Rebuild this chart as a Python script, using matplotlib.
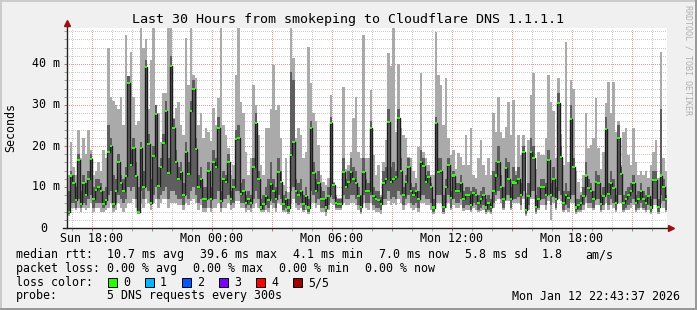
# -*- coding:utf-8 -*-

import numpy as np
import matplotlib
matplotlib.use('Agg')
import matplotlib.pyplot as plt
from matplotlib.patches import Rectangle

# time axis: hours since Sunday 00:00, one column = 7.5 minutes
t_start = 16.75
t_step = 0.125

# smoke per column (ms): lowest ping, inner low, median, inner high, highest ping
med = [
    4.0, 12.8, 11.0, 6.9, 16.7, 5.9, 11.0, 8.0, 12.0, 16.8, 7.1, 9.3, 9.9, 9.1, 5.9, 6.9, 18.6, 19.9, 5.9, 9.1,
    16.0, 11.0, 9.1, 12.7, 35.4, 15.3, 19.6, 12.7, 4.0, 19.6, 10.1, 39.3, 20.4, 6.1, 17.6, 27.7, 10.3, 14.8, 20.7, 28.5,
    13.3, 39.6, 24.3, 16.1, 12.0, 13.7, 8.0, 18.6, 13.2, 28.5, 33.9, 19.3, 10.1, 12.0, 7.1, 7.1, 14.0, 7.1, 16.0, 14.8,
    24.5, 6.5, 12.0, 11.2, 16.1, 7.1, 9.9, 21.6, 22.0, 8.2, 9.0, 6.1, 7.1, 6.1, 14.8, 25.7, 12.0, 5.0, 5.9, 7.8,
    6.9, 10.8, 9.0, 7.0, 13.7, 11.2, 5.9, 7.0, 5.0, 17.8, 20.9, 9.0, 8.0, 9.0, 5.9, 7.8, 5.0, 24.5, 13.3, 9.0,
    11.0, 7.1, 7.0, 5.0, 7.8, 25.5, 10.4, 6.1, 5.9, 5.9, 13.7, 9.9, 11.3, 13.7, 12.0, 11.0, 7.8, 5.2, 13.7, 9.1,
    9.1, 24.5, 7.8, 7.1, 6.9, 5.9, 11.0, 12.0, 25.8, 11.3, 12.0, 12.4, 26.8, 14.0, 8.0, 11.2, 14.8, 9.1, 8.0, 9.1,
    7.1, 16.0, 15.2, 11.2, 12.4, 9.9, 5.0, 25.5, 13.7, 13.9, 5.2, 9.9, 15.4, 7.3, 12.8, 9.0, 9.1, 11.0, 7.1, 8.0,
    8.0, 5.6, 8.5, 8.0, 6.1, 7.0, 8.0, 5.0, 6.1, 5.2, 9.1, 12.8, 16.1, 9.9, 7.1, 14.6, 12.0, 7.1, 11.1, 11.0,
    12.0, 8.0, 18.6, 4.4, 7.8, 18.6, 17.0, 5.2, 7.1, 9.9, 9.9, 8.0, 16.7, 8.0, 12.0, 7.1, 30.4, 17.4, 6.1, 8.0,
    7.3, 26.7, 14.8, 5.0, 5.6, 6.1, 7.8, 12.8, 9.8, 9.1, 7.1, 11.2, 11.0, 5.9, 7.8, 24.1, 8.2, 11.0, 9.8, 6.1,
    21.9, 13.2, 6.1, 7.1, 8.0, 9.0, 11.0, 6.1, 7.1, 9.0, 7.1, 6.1, 7.8, 5.0, 11.7, 11.7, 5.2, 12.8, 9.9, 7.0,
]
hi = [
    13, 21, 15, 13, 24, 17, 22, 18, 24, 19, 13, 14, 16, 14, 19, 17, 44, 32, 31, 30,
    29, 32, 25, 47, 37, 43, 32, 25, 26, 49, 44, 46, 29, 41, 49, 30, 28, 21, 33, 33,
    48.7, 48.7, 26.8, 29.2, 30.8, 25.1, 22.7, 46.3, 34.9, 49.5, 37.3, 36.5, 25.1, 28.0, 21.9, 24.3, 23.5, 21.1, 29.2, 25.1,
    31.6, 49.5, 25.1, 22.7, 19.4, 12.9, 15.4, 37.3, 49.5, 30.8, 28.0, 18.6, 12.9, 17.0, 34.9, 30.0, 22.7, 15.4, 12.9, 24.3,
    24.3, 29, 39.8, 28.8, 30, 22, 10.5, 17, 8.9, 48.7, 41.4, 21.9, 24.3, 22.7, 17, 18.6, 44.2, 35.3, 28, 26,
    20.2, 12.9, 11.3, 10.5, 12.1, 32.4, 11.3, 8.0, 7.2, 7.2, 34.5, 14.5, 15.4, 18.6, 26.8, 32, 18.6, 17, 47.1, 17,
    17, 33.7, 17.8, 12.9, 15.4, 8, 16.2, 21.4, 42.6, 39.4, 48.7, 23.5, 40, 24.3, 22.7, 21.9, 17.4, 17, 13.8, 12.1,
    19.8, 37.7, 18.6, 17, 15.4, 12.9, 12.9, 47.9, 37.3, 34.9, 25.1, 36.5, 21.9, 17.8, 19, 14.5, 18.2, 17.4, 15.4, 22.7,
    15.4, 24.3, 12.9, 12.1, 17, 21.4, 15.4, 12.9, 17, 12.9, 28, 23.5, 32, 23.5, 21.9, 24.7, 30.8, 22.7, 31.2, 13.8,
    22.7, 17.8, 22.7, 8.5, 21.4, 32.4, 37.7, 14.5, 18.6, 17.8, 17.8, 21.9, 37.3, 30.8, 28.5, 17, 36.5, 23, 15.4, 45.4,
    16.2, 36.1, 34, 13.8, 11.3, 8.9, 12.9, 28, 19.4, 20.2, 21.9, 31.6, 19.4, 14.5, 18.6, 30.4, 35.7, 28, 35.7, 23.5,
    26, 15.4, 23.5, 24.3, 17.8, 15.4, 24.3, 16.2, 12.9, 13.8, 12.9, 13.8, 12.1, 15.4, 18.6, 21.4, 12.1, 43, 17, 13.8,
]
q_hi = [
    9, 14, 13, 10, 18, 9, 13, 11, 14, 18, 10, 12, 12, 11, 9, 10, 25, 22, 13, 12,
    18, 13, 12, 15, 37, 19, 22, 16, 10, 21, 14, 41, 23, 12, 20, 30, 15, 17, 23, 31,
    17, 42, 26.5, 19, 15, 16, 11, 21, 16, 31, 36, 22, 13, 15, 10, 10, 16, 10, 19, 17,
    27, 9, 14, 13, 18, 9, 12, 24, 25, 11, 12, 8, 9, 8, 17, 28, 14, 7, 8, 10,
    12, 16, 12, 10, 17, 14, 8, 9, 7, 38, 36, 12, 11, 12, 8, 10, 7, 26, 16, 12,
    14, 10, 9, 7, 10, 27, 11, 7.5, 7, 7, 17, 12, 14, 17, 15, 14, 10, 8, 17, 12,
    11, 26, 10, 9, 9, 7.5, 14, 15, 29, 15, 16, 14, 29, 17, 10, 13, 17, 11, 10, 11,
    9, 19, 17, 13, 14, 11, 7, 27, 17, 17, 8, 12, 17, 9, 14, 11, 11, 13, 9, 10,
    10, 9, 10, 9.5, 8, 9, 10, 7, 8, 7, 14, 16, 20, 13, 10, 17, 16, 10, 15, 13,
    15, 11, 20, 7, 11, 22, 20, 8, 10, 12, 12, 11, 19, 11, 15, 10, 33, 20, 9, 11,
    9, 30, 17, 7, 7, 8, 10, 16, 12, 11, 9, 14, 13, 8, 10, 27, 11, 14, 12, 8,
    25, 15, 8, 9, 10, 11, 13, 8, 9, 11, 9, 8, 10, 7, 14, 14, 7, 29, 12, 8,
]
q_lo = [
    3.5, 6, 6, 5, 7, 5, 6, 5.5, 7, 8, 5, 6, 6, 6, 5, 5.5, 8, 9, 5, 6,
    8, 7, 6, 7, 10, 9, 10, 7, 4, 9, 7, 10, 9, 5.5, 8, 10, 7, 8, 9, 10,
    7, 9, 9, 8, 7, 7, 5.5, 8, 7, 9, 10, 8, 6, 7, 5, 5, 7, 5, 7, 7,
    9, 5, 7, 7, 8, 5.5, 6, 9, 9, 6, 6, 5, 5.5, 5, 7, 9, 7, 4.5, 4.5, 5.5,
    5, 7, 6, 5, 8, 7, 4.5, 5, 4, 9, 10, 6, 5.5, 6, 4.5, 5.5, 4, 9, 8, 6,
    7, 5, 5, 4, 5.5, 8, 7, 5, 5, 5, 8, 7, 7, 8, 8, 7, 5.5, 4, 8, 6,
    6, 8, 5.5, 5, 5, 4.5, 7, 7, 9, 7, 7.5, 7, 9, 8, 5.5, 7, 8, 6, 5.5, 6,
    5, 8, 8, 7, 7, 6, 4, 8, 8, 8, 4, 6, 8, 5, 7, 6, 6, 7, 5, 5.5,
    5.5, 4.5, 6, 5.5, 4.5, 5, 5.5, 4, 4.5, 4, 6, 8, 9, 7, 5, 8, 8, 5, 7, 7,
    7.5, 5.5, 9, 3.5, 5.5, 9, 9, 4, 5, 7, 7, 5.5, 8, 5.5, 7.5, 5, 9, 8, 4.5, 5.5,
    5, 8, 8, 4, 4.5, 4.5, 5.5, 8, 6, 6, 5, 7, 7, 4.5, 5.5, 8, 5.5, 7, 6, 4.5,
    8, 8, 4.5, 5, 5.5, 6, 7, 4.5, 5, 6, 5, 4.5, 5.5, 4, 7, 7, 4, 8, 6.5, 4.5,
]
lo = [
    3, 5, 5, 4.5, 5, 4, 5, 4.5, 5, 6, 4, 5, 5, 4, 4, 4.5, 5, 6, 4, 4.5,
    6, 5, 4, 5, 6, 6, 7, 5, 3.5, 6, 5, 7, 6, 4.5, 6, 7, 5, 6, 7, 7,
    5, 6, 6, 6, 5.5, 5.5, 4.5, 6, 5.5, 6.5, 7, 6, 4.5, 5.5, 4, 4, 5, 4, 5, 5,
    6, 4, 5, 5, 6, 4.5, 5, 6.5, 6.5, 5, 5, 4, 4.5, 4, 5, 6, 5, 4, 3.8, 4.5,
    4, 5.5, 5, 4, 6, 5.5, 4, 4, 3.5, 6, 7, 5, 4.5, 5, 3.8, 4.5, 3.5, 6, 6, 5,
    5.5, 4, 4, 3, 4.5, 6, 5.5, 4.5, 4.5, 4.5, 6, 5.5, 5.5, 6, 6, 5.5, 4.5, 3.5, 6, 5,
    4.5, 6, 4.5, 4, 4, 3.5, 5.5, 5.5, 6.5, 5.5, 6, 5.5, 7, 6, 4.5, 5.5, 6, 5, 4.5, 5,
    4, 6, 6, 5.5, 5.5, 4.5, 3.5, 6, 6, 6, 3.5, 5, 6, 4.5, 5.5, 5, 5, 5.5, 4.2, 4.5,
    4.5, 4, 5, 4.5, 4, 4.2, 4.5, 3.5, 3.8, 3.5, 5, 6.5, 7, 6, 4.5, 6.5, 6.5, 4.5, 6, 6,
    6, 4.5, 7, 3, 4.5, 7, 7, 3.5, 4.5, 5.5, 5.5, 4.5, 6.5, 2, 6, 4.5, 7, 6.5, 4, 4.5,
    4, 6, 6, 3.5, 3.8, 4, 4.5, 6, 5, 5, 4.5, 5.5, 5.5, 4, 4.5, 6, 4.5, 5.5, 5, 4,
    6, 6, 4, 4.5, 4.5, 5, 5.5, 4, 4.5, 5, 4.5, 4, 4.5, 3.5, 5.5, 5.5, 3.5, 6, 5, 4,
]

x_label_hours = [18, 24, 30, 36, 42]
x_labels = ['Sun 18:00', 'Mon 00:00', 'Mon 06:00', 'Mon 12:00', 'Mon 18:00']
y_tick_vals = [0, 10, 20, 30, 40]
y_labels = ['0', '10 m', '20 m', '30 m', '40 m']

loss_labels = ['0', '1', '2', '3', '4', '5/5']
loss_colors = ['#26ff00', '#00b8ff', '#0059ff', '#7e00ff', '#ff0000', '#a10000']

title = 'Last 30 Hours from smokeping to Cloudflare DNS 1.1.1.1'
rtt_parts = ['median rtt:', '10.7 ms avg', '39.6 ms max', '4.1 ms min', '7.0 ms now', '5.8 ms sd', '1.8', 'am/s']
loss_parts = ['packet loss:', '0.00 % avg', '0.00 % max', '0.00 % min', '0.00 % now']
probe_parts = ['probe:', '5 DNS requests every 300s']
stamp = 'Mon Jan 12 22:43:37 2026'

W, H = 697, 310
MONO = 'DejaVu Sans Mono'
FS = 8.4


def fx(px):
    return px / W


def fy(py):
    return 1 - py / H


def main():
    fig = plt.figure(figsize=(W / 100, H / 100), dpi=100, facecolor='#f0f0f0')

    # 3d frame like rrdtool
    fig.add_artist(Rectangle((0, fy(2)), 1, 2 / H, transform=fig.transFigure, color='#cbcbcb', lw=0))
    fig.add_artist(Rectangle((0, 0), 2 / W, 1, transform=fig.transFigure, color='#cbcbcb', lw=0))
    fig.add_artist(Rectangle((0, 0), 1, 2 / H, transform=fig.transFigure, color='#999999', lw=0))
    fig.add_artist(Rectangle((1 - 2 / W, 0), 2 / W, 1, transform=fig.transFigure, color='#999999', lw=0))

    ax = fig.add_axes([fx(67), fy(228), 600 / W, 200 / H])
    ax.set_facecolor('white')
    ax.set_xlim(t_start, t_start + 30)
    ax.set_ylim(0, 200 / 4.1)

    smoke = np.sort(np.array([lo, q_lo, med, q_hi, hi], dtype=float), axis=0)
    s_lo, s_qlo, s_med, s_qhi, s_hi = smoke
    n = len(med)
    x = t_start + t_step * np.arange(n)

    ax.bar(x, s_hi - s_lo, bottom=s_lo, width=t_step, align='edge',
           color='#aaaaaa', linewidth=0, antialiased=False, zorder=1)
    ax.bar(x, s_qhi - s_qlo, bottom=s_qlo, width=t_step, align='edge',
           color='#5e5e5e', linewidth=0, antialiased=False, zorder=1.2)
    xs = np.append(x, x[-1] + t_step)
    ax.step(xs, np.append(s_med, s_med[-1]), where='post', color='#1c1c1c', lw=1.0, zorder=1.5)
    ax.bar(x, 0.5, bottom=s_med - 0.25, width=t_step, align='edge',
           color=loss_colors[0], linewidth=0, antialiased=False, zorder=1.8)

    # grid, kept under the smoke
    hours = np.arange(17, 47)
    ax.set_xticks([h for h in hours if h % 3 == 0])
    ax.set_xticks([h for h in hours if h % 3 != 0], minor=True)
    ax.set_yticks(np.arange(0, 50, 10))
    ax.set_yticks([v for v in range(0, 49, 2) if v % 10 != 0], minor=True)
    ax.set_axisbelow(True)
    ax.grid(which='minor', color='#cccccc', linestyle=(0, (1, 2)), linewidth=0.72, antialiased=False)
    ax.grid(which='major', color='#e39c9c', linestyle=(0, (1, 2)), linewidth=0.72, antialiased=False)
    ax.tick_params(which='both', labelbottom=False, labelleft=False, direction='out')
    ax.tick_params(which='major', length=2, width=0.7, color='#c07070')
    ax.tick_params(which='minor', length=2, width=0.7, color='#a0a0a0')
    for s in ax.spines.values():
        s.set_visible(False)

    # axes with arrows
    ax.plot([0, 0], [0, 1.02], transform=ax.transAxes, color='#202020', lw=1, clip_on=False, zorder=3)
    ax.plot([-0.007, 1.004], [0, 0], transform=ax.transAxes, color='#202020', lw=1, clip_on=False, zorder=3)
    ax.plot(0, 1.025, marker='^', ms=4, color='#9a1010', transform=ax.transAxes, clip_on=False, zorder=3)
    ax.plot(1.006, 0, marker='>', ms=4, color='#9a1010', transform=ax.transAxes, clip_on=False, zorder=3)

    # tick labels
    for h, lab in zip(x_label_hours, x_labels):
        ax.text(h, -10 / 200, lab, transform=ax.get_xaxis_transform(), ha='center', va='center',
                family=MONO, fontsize=FS)
    for v, lab in zip(y_tick_vals, y_labels):
        off = 7 if ' ' in lab else 20
        ax.text(-off / 600, v, lab, transform=ax.get_yaxis_transform(), ha='right', va='center',
                family=MONO, fontsize=FS)

    fig.text(fx(11), fy(128), 'Seconds', rotation=90, ha='center', va='center', family=MONO, fontsize=FS)
    fig.text(fx(348), fy(19), title, ha='center', va='center', family=MONO, fontsize=9.6)
    fig.text(fx(688), fy(5), 'RRDTOOL / TOBI OETIKER', rotation=270, ha='center', va='top',
             family=MONO, fontsize=6, color='#b0b0b0')

    # legend rows, each piece placed where rrdtool put it
    rows = [
        (rtt_parts, [16, 107, 200, 293, 379, 465, 542, 585], 258),
        (loss_parts, [16, 107, 193, 279, 365], 272),
        (probe_parts, [16, 107], 299.5),
    ]
    for parts, xs_px, by in rows:
        for txt, px in zip(parts, xs_px):
            fig.text(fx(px), fy(by), txt, ha='left', va='baseline', family=MONO, fontsize=FS)
    fig.text(fx(16), fy(286), 'loss color:', ha='left', va='baseline', family=MONO, fontsize=FS)
    for i, (lab, col) in enumerate(zip(loss_labels, loss_colors)):
        bx = 108 + 37 * i
        fig.add_artist(Rectangle((fx(bx), fy(287)), 9 / W, 9 / H, transform=fig.transFigure,
                                 facecolor=col, edgecolor='black', linewidth=0.7))
        fig.text(fx(bx + 15), fy(286), lab, ha='left', va='baseline', family=MONO, fontsize=FS)
    fig.text(fx(680), fy(299.5), stamp, ha='right', va='baseline', family=MONO, fontsize=FS)

    fig.savefig('out.png', dpi=100, facecolor=fig.get_facecolor())


if __name__ == "__main__":
    main()
